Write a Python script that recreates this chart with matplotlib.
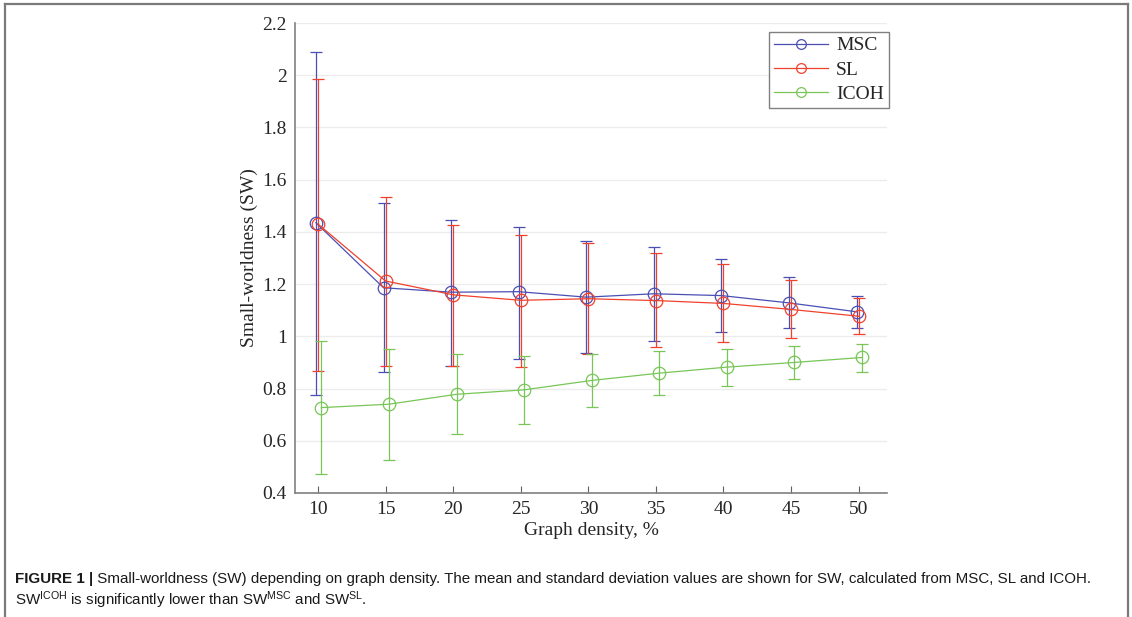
#!/usr/bin/env python3
"""Small-worldness (SW) vs graph density for MSC, SL and ICOH (mean +- SD)."""

import matplotlib
matplotlib.use("Agg")
import matplotlib.pyplot as plt
from matplotlib.lines import Line2D

# ---- data ----
density = [10, 15, 20, 25, 30, 35, 40, 45, 50]

msc_mean = [1.435, 1.186, 1.169, 1.171, 1.150, 1.163, 1.156, 1.128, 1.094]
msc_upper = [2.088, 1.510, 1.445, 1.419, 1.366, 1.344, 1.297, 1.226, 1.154]
msc_lower = [0.777, 0.862, 0.887, 0.915, 0.935, 0.982, 1.017, 1.033, 1.033]

sl_mean = [1.430, 1.212, 1.159, 1.138, 1.144, 1.137, 1.126, 1.103, 1.077]
sl_upper = [1.986, 1.533, 1.426, 1.390, 1.358, 1.318, 1.277, 1.215, 1.146]
sl_lower = [0.869, 0.888, 0.887, 0.882, 0.931, 0.959, 0.978, 0.992, 1.008]

icoh_mean = [0.727, 0.740, 0.778, 0.795, 0.831, 0.859, 0.882, 0.900, 0.919]
icoh_upper = [0.983, 0.953, 0.931, 0.924, 0.931, 0.944, 0.953, 0.962, 0.969]
icoh_lower = [0.474, 0.527, 0.627, 0.664, 0.731, 0.776, 0.809, 0.838, 0.865]

y_ticks = [0.4, 0.6, 0.8, 1.0, 1.2, 1.4, 1.6, 1.8, 2.0, 2.2]
y_tick_labels = ["0.4", "0.6", "0.8", "1", "1.2", "1.4", "1.6", "1.8", "2", "2.2"]

CAPTION_BOLD = "FIGURE 1 |"
CAPTION_1 = (" Small-worldness (SW) depending on graph density. The mean and standard deviation "
             "values are shown for SW, calculated from MSC, SL and ICOH.")
CAPTION_2 = (r"SW$^{\mathrm{ICOH}}$ is significantly lower than SW$^{\mathrm{MSC}}$ "
             r"and SW$^{\mathrm{SL}}$.")

plt.rcParams["mathtext.fontset"] = "custom"
plt.rcParams["mathtext.rm"] = "Liberation Sans"
plt.rcParams["mathtext.it"] = "Liberation Sans:italic"
plt.rcParams["mathtext.bf"] = "Liberation Sans:bold"

SERIF = "Liberation Serif"

fig = plt.figure(figsize=(11.32, 6.17), dpi=100)
ax = fig.add_axes([0.2606, 0.2010, 0.5230, 0.7617])

series = [
    ("MSC", msc_mean, msc_upper, msc_lower, "#4a4fb3", -0.15),
    ("SL", sl_mean, sl_upper, sl_lower, "#f0412d", 0.0),
    ("ICOH", icoh_mean, icoh_upper, icoh_lower, "#78c657", 0.25),
]

handles = []
for name, mean, up, lo, color, dx in series:
    x = [d + dx for d in density]
    err = [[m - l for m, l in zip(mean, lo)], [u - m for m, u in zip(mean, up)]]
    ax.errorbar(x, mean, yerr=err, color=color, linewidth=0.9, elinewidth=0.9,
                capsize=4.5, capthick=0.9, marker="o", markersize=9,
                markerfacecolor="none", markeredgecolor=color, markeredgewidth=0.9)
    handles.append(Line2D([], [], color=color, linewidth=0.9, marker="o", markersize=7,
                          markerfacecolor="none", markeredgecolor=color,
                          markeredgewidth=0.9, label=name))

ax.set_xlim(8.3, 52.1)
ax.set_ylim(0.4, 2.2)
ax.set_xticks(density)
ax.set_yticks(y_ticks)
ax.set_yticklabels(y_tick_labels)

for s in ["top", "right"]:
    ax.spines[s].set_visible(False)
for s in ["left", "bottom"]:
    ax.spines[s].set_color("#808080")
    ax.spines[s].set_linewidth(1.2)

ax.grid(axis="y", color="#ececec", linewidth=1.0)
ax.set_axisbelow(True)
ax.tick_params(axis="both", direction="in", length=5, color="#606060",
               labelsize=14, pad=6)
ax.tick_params(axis="y", length=0)
for lbl in ax.get_xticklabels() + ax.get_yticklabels():
    lbl.set_fontfamily(SERIF)
    lbl.set_color("#262626")

ax.set_xlabel("Graph density, %", fontsize=14, family=SERIF, color="#262626", labelpad=3)
ax.set_ylabel("Small-worldness (SW)", fontsize=14, family=SERIF, color="#262626", labelpad=3)

leg = ax.legend(handles=handles, loc="upper right", bbox_to_anchor=(1.003, 0.981),
                borderaxespad=0, prop={"family": SERIF, "size": 14}, numpoints=1,
                handlelength=2.8, handletextpad=0.4, labelspacing=0.35, fancybox=False,
                edgecolor="#808080", framealpha=1.0, borderpad=0.25)
leg.get_frame().set_linewidth(1.0)
for t in leg.get_texts():
    t.set_color("#262626")

# outer frame (open at the bottom)
frame_kw = dict(color="#7a7a7a", linewidth=1.6, transform=fig.transFigure)
fig.add_artist(Line2D([0.0044, 0.9965], [0.9935, 0.9935], **frame_kw))
fig.add_artist(Line2D([0.0044, 0.0044], [0.0, 0.9935], **frame_kw))
fig.add_artist(Line2D([0.9965, 0.9965], [0.0, 0.9935], **frame_kw))

# caption
cap_x, cap_y1, cap_y2 = 0.0133, 0.0551, 0.019
t_bold = fig.text(cap_x, cap_y1, CAPTION_BOLD, family="Liberation Sans", weight="bold",
                  fontsize=10.9, va="baseline", color="#1a1a1a")
renderer = fig.canvas.get_renderer()
bb = t_bold.get_window_extent(renderer)
x_next = bb.x1 / fig.bbox.width
fig.text(x_next, cap_y1, CAPTION_1, family="Liberation Sans", fontsize=10.9,
         va="baseline", color="#1a1a1a")
fig.text(cap_x, cap_y2, CAPTION_2, family="Liberation Sans", fontsize=10.9,
         va="baseline", color="#1a1a1a")

fig.savefig("out.png", dpi=100)
